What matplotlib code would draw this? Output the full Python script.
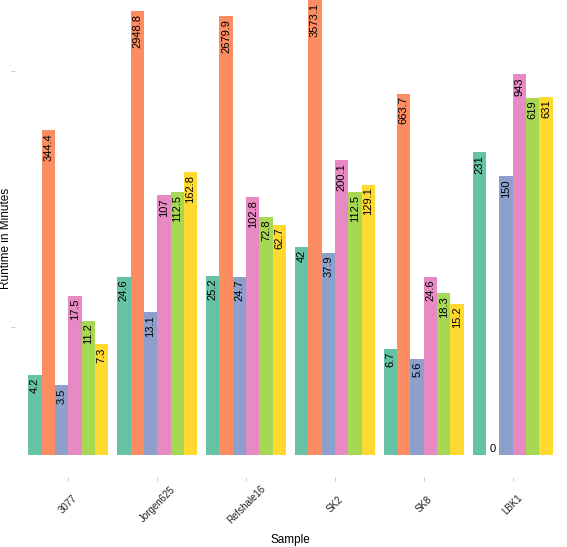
import matplotlib.pyplot as plt
import numpy as np

plt.rcParams['font.family'] = ['Liberation Sans', 'DejaVu Sans']

samples = ["3077", "Jorgen625", "Refshale16", "SK2", "SK8", "LBK1"]
tool_colors = ["#66c2a5", "#fc8d62", "#8da0cb", "#e78ac3", "#a6d854", "#ffd92f"]

# runtime per tool (one list per bar colour), in minutes
tool1 = [4.2, 24.6, 25.2, 42, 6.7, 231]
tool2 = [344.4, 2948.8, 2679.9, 3573.1, 663.7, 0]
tool3 = [3.5, 13.1, 24.7, 37.9, 5.6, 150]
tool4 = [17.5, 107, 102.8, 200.1, 24.6, 943]
tool5 = [11.2, 112.5, 72.8, 112.5, 18.3, 619]
tool6 = [7.3, 162.8, 62.7, 129.1, 15.2, 631]
series = [tool1, tool2, tool3, tool4, tool5, tool6]

fig = plt.figure(figsize=(5.67, 5.47), dpi=100)
ax = fig.add_axes([15 / 567, (547 - 477) / 547, 551 / 567, 477 / 547])

x = np.arange(len(samples))
w = 0.9 / len(series)
base = 1.0
for i, (vals, col) in enumerate(zip(series, tool_colors)):
    pos = x - 0.45 + w * (i + 0.5)
    vals = np.array(vals, dtype=float)
    heights = np.where(vals > 0, vals - base, 0)
    ax.bar(pos, heights, bottom=base, width=w, color=col, linewidth=0)
    for p, v in zip(pos, vals):
        lab = f"{v:g}"
        if v > 0:
            ax.annotate(lab, (p, v), xytext=(0, -2), textcoords="offset points",
                        rotation=90, ha="center", va="top", fontsize=8)
        else:
            ax.annotate(lab, (p, base), xytext=(0, 1), textcoords="offset points",
                        ha="center", va="bottom", fontsize=8)

ax.set_yscale("log")
ax.set_ylim(0.673, 3590)
ax.set_xlim(-0.6, len(samples) - 0.4)
ax.set_yticks([10, 1000])
ax.set_yticklabels([])
ax.minorticks_off()
ax.set_xticks(x)
ax.set_xticklabels(samples, rotation=45, ha="center", va="center", fontsize=7, color="#222222")
ax.tick_params(axis="both", length=3, width=0.5, color="#bbbbbb")
ax.tick_params(axis="x", pad=16.5)
ax.tick_params(axis="y", pad=1)
for s in ax.spines.values():
    s.set_visible(False)

ax.set_xlabel("Sample", fontsize=8.5, va="center")
ax.xaxis.set_label_coords(0.5, -0.132)
ax.set_ylabel("Runtime in Minutes", fontsize=8.5, va="center")
ax.yaxis.set_label_coords(-0.017, 0.5)

fig.savefig("out.png", dpi=100)
